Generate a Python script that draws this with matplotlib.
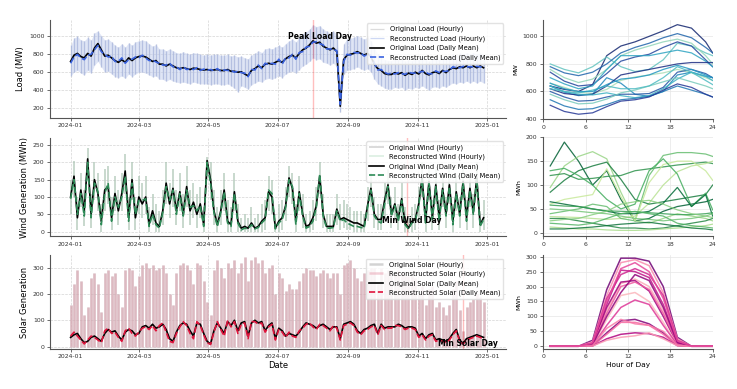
import numpy as np
import pandas as pd
import matplotlib
matplotlib.use('Agg')
import matplotlib.pyplot as plt
import matplotlib.dates as mdates

# ---- data: daily values every 3 days ----
dates = pd.date_range('2024-01-01', periods=122, freq='3D')

load_orig = [720, 790, 810, 775, 760, 810, 780, 870, 920, 850,
             780, 790, 760, 730, 710, 740, 710, 760, 730, 760,
             775, 780, 770, 745, 720, 730, 690, 690, 670, 690,
             670, 650, 640, 650, 640, 630, 645, 640, 630, 625,
             630, 620, 625, 630, 620, 618, 630, 610, 610, 600,
             605, 580, 560, 620, 640, 670, 650, 690, 700, 690,
             710, 730, 710, 750, 775, 790, 760, 810, 850, 870,
             905, 950, 925, 935, 890, 870, 850, 870, 830, 220,
             740, 790, 800, 810, 830, 810, 790, 810, 775, 690,
             640, 620, 585, 575, 575, 595, 580, 595, 565, 590,
             575, 600, 580, 620, 585, 570, 595, 605, 585, 620,
             595, 630, 650, 640, 660, 650, 670, 650, 670, 650,
             670, 650]
load_recon = [700, 770, 800, 760, 740, 790, 800, 850, 900, 830,
              800, 770, 780, 720, 720, 760, 700, 740, 745, 770,
              760, 790, 760, 730, 735, 715, 700, 680, 680, 700,
              660, 660, 630, 660, 630, 640, 630, 650, 620, 635,
              620, 630, 615, 640, 610, 625, 620, 620, 600, 610,
              595, 590, 550, 630, 625, 680, 640, 700, 685, 700,
              690, 745, 690, 760, 760, 800, 745, 820, 830, 880,
              890, 935, 940, 920, 905, 860, 860, 855, 840, 240,
              720, 800, 790, 820, 815, 820, 780, 800, 790, 700,
              625, 630, 600, 580, 590, 580, 595, 585, 575, 600,
              590, 590, 595, 610, 600, 580, 585, 615, 595, 610,
              610, 620, 660, 650, 650, 665, 660, 660, 660, 665,
              660, 655]
load_hourly_hi = [900, 980, 1000, 960, 950, 990, 960, 1040, 1060, 1010,
                  960, 970, 940, 900, 880, 920, 880, 930, 900, 940,
                  950, 960, 950, 920, 890, 910, 860, 860, 840, 860,
                  840, 820, 810, 830, 810, 800, 820, 810, 800, 790,
                  800, 790, 800, 800, 790, 790, 800, 780, 790, 770,
                  780, 760, 750, 790, 810, 840, 820, 860, 870, 860,
                  880, 900, 880, 920, 950, 970, 940, 990, 1030, 1050,
                  1080, 1130, 1110, 1120, 1080, 1060, 1040, 1060, 1020, 500,
                  920, 970, 980, 990, 1010, 990, 970, 990, 950, 870,
                  800, 780, 740, 730, 730, 750, 740, 750, 720, 740,
                  730, 760, 740, 780, 740, 720, 750, 760, 740, 770,
                  750, 780, 800, 790, 810, 800, 820, 800, 820, 800,
                  810, 790]
load_hourly_lo = [560, 600, 620, 590, 570, 620, 590, 680, 720, 660,
                  600, 610, 580, 550, 540, 560, 530, 580, 550, 580,
                  600, 600, 590, 570, 550, 560, 520, 520, 500, 520,
                  500, 490, 480, 490, 480, 470, 490, 480, 470, 470,
                  470, 460, 470, 470, 460, 460, 470, 450, 420, 380,
                  450, 430, 410, 460, 480, 500, 490, 520, 530, 520,
                  540, 560, 540, 580, 600, 610, 590, 630, 670, 690,
                  720, 760, 740, 750, 710, 700, 680, 700, 660, 150,
                  580, 620, 630, 640, 660, 640, 620, 640, 600, 520,
                  470, 450, 420, 410, 410, 430, 420, 430, 400, 420,
                  410, 430, 420, 450, 420, 400, 430, 440, 420, 450,
                  430, 460, 480, 470, 490, 480, 500, 480, 500, 480,
                  500, 480]

wind_orig = [100, 160, 40, 120, 60, 210, 50, 150, 110, 30,
             120, 130, 40, 110, 60, 110, 175, 40, 150, 40,
             100, 80, 100, 20, 60, 25, 15, 60, 140, 80,
             125, 60, 115, 50, 130, 60, 85, 50, 80, 20,
             205, 150, 60, 20, 60, 120, 30, 20, 115, 30,
             10, 15, 10, 25, 10, 15, 30, 40, 115, 100,
             10, 30, 40, 75, 155, 125, 30, 115, 50, 15,
             20, 40, 75, 160, 50, 15, 15, 15, 65, 35,
             40, 35, 30, 25, 25, 20, 15, 75, 125, 50,
             35, 35, 90, 135, 50, 80, 35, 95, 25, 10,
             30, 35, 80, 155, 30, 145, 40, 135, 40, 125,
             50, 135, 30, 115, 50, 145, 40, 125, 55, 155,
             20, 40]
wind_recon = [95, 150, 50, 110, 45, 200, 40, 140, 115, 20,
              110, 140, 30, 100, 70, 100, 160, 30, 140, 50,
              90, 90, 95, 15, 50, 20, 10, 55, 130, 90,
              120, 50, 110, 45, 120, 70, 75, 60, 75, 15,
              200, 140, 55, 15, 55, 115, 25, 15, 110, 25,
              5, 10, 8, 20, 8, 12, 25, 35, 120, 110,
              8, 25, 35, 70, 150, 130, 20, 110, 45, 10,
              15, 30, 70, 165, 45, 10, 10, 12, 60, 30,
              35, 25, 20, 15, 15, 12, 10, 70, 120, 45,
              30, 25, 80, 130, 45, 75, 30, 90, 20, 8,
              25, 30, 75, 150, 25, 140, 35, 130, 30, 120,
              45, 130, 20, 110, 45, 140, 30, 120, 50, 150,
              15, 35]
wind_hourly_hi = [150, 205, 100, 170, 120, 240, 110, 200, 170, 80,
                  180, 190, 100, 160, 120, 170, 225, 100, 200, 100,
                  160, 140, 160, 70, 110, 80, 60, 120, 200, 140,
                  180, 120, 170, 110, 190, 120, 140, 110, 130, 70,
                  215, 200, 120, 70, 120, 170, 90, 70, 170, 80,
                  40, 50, 40, 70, 40, 50, 80, 90, 160, 150,
                  50, 80, 90, 130, 190, 170, 80, 160, 110, 50,
                  60, 90, 130, 200, 110, 50, 50, 50, 110, 80,
                  90, 80, 70, 60, 60, 60, 50, 130, 170, 100,
                  80, 80, 140, 180, 100, 130, 80, 140, 70, 40,
                  70, 80, 130, 200, 80, 190, 90, 180, 90, 170,
                  100, 180, 80, 160, 100, 190, 90, 170, 110, 200,
                  60, 90]
wind_hourly_lo = [50, 100, 5, 70, 15, 150, 10, 90, 60, 0,
                  60, 80, 5, 60, 20, 60, 110, 5, 90, 5,
                  50, 40, 50, 0, 20, 0, 0, 20, 80, 40,
                  70, 20, 60, 10, 70, 20, 40, 10, 40, 0,
                  150, 90, 20, 0, 20, 60, 0, 0, 60, 0,
                  0, 0, 0, 0, 0, 0, 0, 5, 60, 50,
                  0, 0, 5, 30, 100, 80, 0, 60, 10, 0,
                  0, 5, 30, 110, 10, 0, 0, 0, 20, 5,
                  10, 5, 5, 0, 0, 0, 0, 30, 70, 10,
                  5, 5, 40, 80, 10, 30, 5, 40, 0, 0,
                  0, 5, 30, 100, 0, 90, 5, 80, 5, 70,
                  10, 80, 0, 60, 10, 90, 5, 70, 10, 100,
                  0, 5]

solar_orig = [35, 45, 50, 30, 15, 20, 35, 40, 30, 20,
              50, 65, 55, 60, 40, 25, 55, 65, 60, 45,
              50, 75, 80, 70, 85, 70, 75, 85, 65, 30,
              20, 55, 80, 90, 85, 60, 40, 90, 85, 50,
              20, 10, 60, 90, 70, 50, 95, 80, 100, 60,
              90, 95, 40, 90, 100, 90, 95, 60, 80, 90,
              30, 70, 60, 40, 50, 45, 40, 55, 75, 90,
              85, 80, 70, 80, 85, 75, 65, 75, 75, 30,
              85, 90, 95, 85, 60, 50, 65, 70, 80, 85,
              50, 85, 70, 75, 75, 75, 85, 80, 70, 75,
              75, 70, 40, 50, 30, 45, 50, 25, 30, 25,
              20, 30, 50, 65, 25, 12, 30, 35, 40, 45,
              40, 35]
solar_recon = [40, 55, 40, 25, 10, 25, 40, 35, 25, 15,
               60, 70, 50, 55, 35, 20, 60, 70, 50, 40,
               55, 70, 75, 65, 80, 60, 80, 90, 55, 20,
               15, 50, 75, 95, 80, 50, 30, 95, 80, 45,
               15, 8, 55, 95, 65, 40, 100, 75, 95, 50,
               85, 90, 30, 95, 95, 85, 90, 55, 75, 85,
               25, 65, 55, 35, 55, 40, 35, 60, 70, 85,
               90, 75, 65, 85, 80, 70, 60, 80, 70, 25,
               80, 85, 90, 80, 55, 45, 60, 65, 75, 80,
               45, 80, 65, 70, 70, 80, 80, 75, 65, 70,
               70, 65, 35, 45, 25, 40, 45, 20, 25, 20,
               15, 25, 45, 60, 20, 10, 25, 30, 35, 40,
               35, 30]
solar_hourly_hi = [160, 240, 290, 250, 120, 150, 260, 280, 240, 130,
                   280, 290, 270, 280, 200, 150, 290, 300, 290, 230,
                   270, 310, 320, 300, 310, 290, 300, 310, 280, 200,
                   160, 280, 310, 320, 310, 290, 240, 320, 310, 250,
                   170, 120, 290, 330, 300, 260, 320, 300, 330, 280,
                   320, 340, 250, 330, 340, 320, 330, 280, 300, 310,
                   200, 280, 260, 210, 240, 220, 220, 250, 280, 300,
                   290, 290, 270, 280, 290, 280, 260, 280, 280, 200,
                   310, 320, 330, 300, 260, 250, 280, 290, 300, 300,
                   240, 300, 280, 290, 290, 280, 290, 280, 270, 270,
                   270, 260, 200, 230, 160, 220, 230, 150, 170, 150,
                   120, 160, 220, 250, 140, 60, 150, 170, 180, 200,
                   190, 170]

# ---- sample daily profiles (right column) ----
hours = [1, 3, 5, 7, 9, 11, 13, 15, 17, 19, 21, 23, 24]

load_profiles = [
    [640, 615, 600, 650, 860, 930, 960, 1000, 1040, 1085, 1060, 960, 880],
    [800, 760, 735, 780, 850, 780, 745, 760, 830, 950, 930, 880, 860],
    [780, 735, 715, 740, 800, 880, 920, 950, 990, 1020, 990, 920, 880],
    [760, 700, 665, 690, 760, 860, 900, 930, 960, 980, 950, 860, 800],
    [740, 675, 640, 650, 730, 820, 850, 870, 920, 960, 930, 830, 780],
    [700, 655, 620, 640, 760, 860, 860, 860, 880, 900, 880, 820, 780],
    [660, 630, 595, 585, 615, 680, 705, 720, 735, 760, 735, 700, 680],
    [640, 595, 570, 580, 700, 660, 580, 565, 600, 720, 740, 710, 700],
    [620, 585, 575, 580, 640, 720, 740, 760, 780, 800, 810, 810, 810],
    [640, 600, 580, 575, 590, 570, 555, 570, 620, 690, 740, 710, 680],
    [600, 560, 530, 535, 560, 580, 580, 585, 630, 740, 760, 730, 700],
    [580, 540, 510, 515, 545, 590, 610, 640, 670, 700, 670, 640, 620],
    [540, 495, 470, 475, 505, 540, 550, 565, 600, 640, 610, 580, 560],
    [500, 455, 435, 445, 490, 530, 540, 560, 610, 655, 630, 580, 560],
    [620, 600, 590, 610, 640, 620, 620, 640, 700, 780, 740, 680, 650],
    [660, 620, 600, 600, 650, 690, 700, 720, 760, 790, 760, 720, 700],
]
wind_profiles = [
    [140, 190, 150, 100, 130, 70, 25, 30, 45, 55, 60, 65, 70],
    [95, 140, 160, 170, 155, 85, 25, 20, 30, 40, 35, 30, 25],
    [120, 124, 112, 114, 118, 120, 130, 134, 138, 142, 145, 148, 145],
    [34, 33, 32, 30, 28, 30, 35, 62, 100, 128, 140, 145, 150],
    [85, 110, 130, 140, 148, 112, 70, 60, 65, 70, 75, 80, 100],
    [40, 45, 50, 60, 55, 30, 25, 120, 162, 168, 168, 165, 160],
    [60, 70, 75, 80, 134, 76, 25, 105, 143, 150, 150, 130, 110],
    [130, 135, 120, 100, 70, 50, 60, 130, 155, 123, 55, 83, 48],
    [65, 60, 55, 50, 45, 40, 40, 45, 62, 95, 55, 80, 35],
    [50, 48, 45, 42, 40, 35, 30, 28, 25, 28, 30, 35, 40],
    [30, 30, 25, 20, 15, 10, 10, 8, 10, 15, 20, 25, 30],
    [12, 10, 8, 8, 6, 5, 5, 6, 8, 10, 12, 15, 18],
    [58, 56, 55, 50, 46, 45, 44, 42, 40, 38, 38, 40, 42],
    [8, 8, 10, 12, 15, 18, 20, 22, 18, 14, 10, 8, 6],
    [25, 28, 30, 38, 45, 60, 65, 68, 60, 48, 40, 35, 32],
    [20, 18, 16, 20, 30, 40, 45, 40, 35, 20, 15, 12, 10],
]
solar_profiles = [
    [0, 0, 0, 20, 190, 295, 295, 285, 200, 30, 0, 0, 0],
    [0, 0, 0, 15, 170, 280, 290, 270, 180, 25, 0, 0, 0],
    [0, 0, 0, 10, 140, 255, 250, 230, 140, 15, 0, 0, 0],
    [0, 0, 0, 5, 120, 210, 225, 200, 120, 10, 0, 0, 0],
    [0, 0, 0, 8, 130, 215, 220, 185, 100, 8, 0, 0, 0],
    [0, 0, 0, 5, 110, 200, 215, 190, 110, 10, 0, 0, 0],
    [0, 0, 0, 3, 90, 170, 180, 150, 80, 5, 0, 0, 0],
    [0, 0, 0, 2, 70, 130, 155, 140, 70, 5, 0, 0, 0],
    [0, 0, 0, 2, 45, 85, 90, 75, 45, 3, 0, 0, 0],
    [0, 0, 0, 2, 40, 80, 80, 70, 40, 3, 0, 0, 0],
    [0, 0, 0, 1, 25, 40, 45, 42, 30, 2, 0, 0, 0],
    [0, 0, 0, 1, 20, 30, 35, 45, 25, 2, 0, 0, 0],
    [0, 0, 0, 10, 160, 240, 260, 240, 170, 20, 0, 0, 0],
    [0, 0, 0, 5, 100, 180, 240, 220, 130, 12, 0, 0, 0],
    [0, 0, 0, 3, 60, 90, 75, 70, 50, 4, 0, 0, 0],
    [0, 0, 0, 12, 150, 260, 280, 250, 160, 18, 0, 0, 0],
]

# annotated days
peak_load_day = pd.Timestamp('2024-08-01')
min_wind_day = pd.Timestamp('2024-10-23')
min_solar_day = pd.Timestamp('2024-12-11')

TICK_FS = 4.4
LABEL_FS = 6


def style_left(ax, ylabel, ylim, yticks):
    ax.set_xlim(pd.Timestamp('2023-12-14'), pd.Timestamp('2025-01-18'))
    ax.set_ylim(*ylim)
    ax.set_yticks(yticks)
    ax.xaxis.set_major_locator(mdates.MonthLocator(bymonth=[1, 3, 5, 7, 9, 11]))
    ax.xaxis.set_major_formatter(mdates.DateFormatter('%Y-%m'))
    ax.grid(True, linestyle='--', linewidth=0.5, color='#d5d5d5')
    ax.set_axisbelow(True)
    ax.set_ylabel(ylabel, fontsize=LABEL_FS, labelpad=3)
    ax.tick_params(labelsize=TICK_FS, length=2, width=0.5, pad=2, colors='#333333')
    for s in ['top', 'right']:
        ax.spines[s].set_visible(False)
    for s in ['left', 'bottom']:
        ax.spines[s].set_color('#555555')
        ax.spines[s].set_linewidth(0.8)
    ax.legend(loc='upper right', fontsize=4.8, framealpha=0.85, edgecolor='#dddddd',
              borderpad=0.4, labelspacing=0.45, handlelength=2.2, fancybox=True)


def style_right(ax, ylabel, ylim, yticks):
    ax.set_xlim(0, 24)
    ax.set_xticks([0, 6, 12, 18, 24])
    ax.set_ylim(*ylim)
    ax.set_yticks(yticks)
    ax.grid(True, linewidth=0.5, color='#e6e6e6')
    ax.set_axisbelow(True)
    ax.set_ylabel(ylabel, fontsize=4.6, labelpad=3)
    ax.tick_params(labelsize=TICK_FS, length=2, width=0.5, pad=2, colors='#333333')
    for s in ['top', 'right']:
        ax.spines[s].set_visible(False)
    for s in ['left', 'bottom']:
        ax.spines[s].set_color('#555555')
        ax.spines[s].set_linewidth(0.8)


fig = plt.figure(figsize=(7.37, 3.89), dpi=100)
ax_load = fig.add_axes([0.068, 0.697, 0.619, 0.252])
ax_wind = fig.add_axes([0.068, 0.393, 0.619, 0.252])
ax_solar = fig.add_axes([0.068, 0.103, 0.619, 0.241])
axr_load = fig.add_axes([0.737, 0.694, 0.230, 0.255])
axr_wind = fig.add_axes([0.737, 0.393, 0.230, 0.254])
axr_solar = fig.add_axes([0.737, 0.103, 0.230, 0.241])

# --- load ---
ax_load.fill_between(dates, load_hourly_lo, load_hourly_hi, color='#c5d0f0', alpha=0.55,
                     linewidth=0)
ax_load.vlines(dates, load_hourly_lo, load_hourly_hi, color='#bbbbbb', alpha=0.5,
               linewidth=0.9, label='Original Load (Hourly)')
ax_load.vlines(dates, load_hourly_lo, load_hourly_hi, color='#9fb3ea', alpha=0.5,
               linewidth=0.9, label='Reconstructed Load (Hourly)')
ax_load.axvline(peak_load_day, color='red', alpha=0.25, linewidth=1)
ax_load.plot(dates, load_orig, color='black', linewidth=1.2, label='Original Load (Daily Mean)')
ax_load.plot(dates, load_recon, color='#3a63e0', linewidth=1.2, linestyle='--',
             label='Reconstructed Load (Daily Mean)')
ax_load.text(pd.Timestamp('2024-08-07'), 1000, 'Peak Load Day', fontsize=5.5,
             fontweight='bold', ha='center', va='center')
style_left(ax_load, 'Load (MW)', (90, 1185), [200, 400, 600, 800, 1000])

# --- wind ---
ax_wind.vlines(dates, wind_hourly_lo, wind_hourly_hi, color='#aaaaaa', alpha=0.55,
               linewidth=1.1, label='Original Wind (Hourly)')
ax_wind.vlines(dates, wind_hourly_lo, wind_hourly_hi, color='#a8d8b8', alpha=0.45,
               linewidth=1.1, label='Reconstructed Wind (Hourly)')
ax_wind.axvline(min_wind_day, color='red', alpha=0.25, linewidth=1)
ax_wind.plot(dates, wind_orig, color='black', linewidth=1.2, label='Original Wind (Daily Mean)')
ax_wind.plot(dates, wind_recon, color='#2e8b57', linewidth=1.2, linestyle='--',
             label='Reconstructed Wind (Daily Mean)')
ax_wind.text(pd.Timestamp('2024-10-27'), 32, 'Min Wind Day', fontsize=5.5,
             fontweight='bold', ha='center', va='center')
style_left(ax_wind, 'Wind Generation (MWh)', (-13, 270), [0, 50, 100, 150, 200, 250])

# --- solar ---
ax_solar.vlines(dates, 0, solar_hourly_hi, color='#b0b0b0', alpha=0.55,
                linewidth=1.8, label='Original Solar (Hourly)')
ax_solar.vlines(dates, 0, solar_hourly_hi, color='#e8a0b0', alpha=0.5,
                linewidth=1.8, label='Reconstructed Solar (Hourly)')
ax_solar.axvline(min_solar_day, color='red', alpha=0.25, linewidth=1)
ax_solar.plot(dates, solar_orig, color='black', linewidth=1.2, label='Original Solar (Daily Mean)')
ax_solar.plot(dates, solar_recon, color='#e0143c', linewidth=1.2, linestyle='--',
              label='Reconstructed Solar (Daily Mean)')
ax_solar.text(pd.Timestamp('2024-12-15'), 13, 'Min Solar Day', fontsize=5.5,
              fontweight='bold', ha='center', va='center')
style_left(ax_solar, 'Solar Generation', (-9, 348), [0, 100, 200, 300])
ax_solar.set_xlabel('Date', fontsize=LABEL_FS, labelpad=1)

# --- daily profiles ---
load_cols = plt.cm.YlGnBu(np.linspace(0.3, 0.95, len(load_profiles)))
order = [15, 3, 10, 1, 12, 6, 0, 8, 14, 5, 11, 2, 9, 13, 4, 7]
for i, prof in enumerate(load_profiles):
    axr_load.plot(hours, prof, color=load_cols[order[i]], linewidth=0.9, alpha=0.85)
style_right(axr_load, 'MW', (400, 1120), [400, 600, 800, 1000])

wind_cols = plt.cm.YlGn(np.linspace(0.3, 0.9, len(wind_profiles)))
for i, prof in enumerate(wind_profiles):
    axr_wind.plot(hours, prof, color=wind_cols[order[i]], linewidth=0.9, alpha=0.85)
style_right(axr_wind, 'MWh', (-7, 200), [0, 50, 100, 150, 200])

solar_cols = plt.cm.RdPu(np.linspace(0.3, 0.9, len(solar_profiles)))
for i, prof in enumerate(solar_profiles):
    axr_solar.plot(hours, prof, color=solar_cols[order[i]], linewidth=1.1, alpha=0.85)
style_right(axr_solar, 'MWh', (-9, 305), [0, 50, 100, 150, 200, 250, 300])
axr_solar.set_xlabel('Hour of Day', fontsize=5.3, labelpad=2)

fig.savefig('out.png', dpi=100)
